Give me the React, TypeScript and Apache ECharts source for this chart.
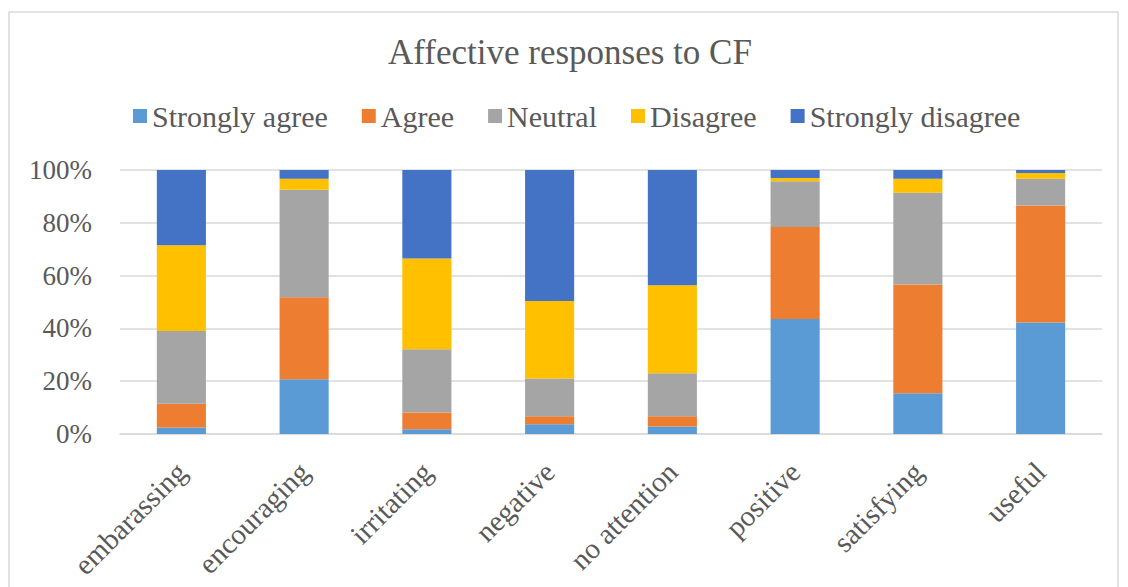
import React, { useEffect, useRef } from "react";
import * as echarts from "echarts";

const categories = ["embarassing", "encouraging", "irritating", "negative", "no attention", "positive", "satisfying", "useful"];
const seriesNames = ["Strongly agree", "Agree", "Neutral", "Disagree", "Strongly disagree"];
const stronglyAgree = [2.5, 20.7, 1.8, 3.7, 2.8, 43.6, 15.4, 42.2];
const agree = [9.0, 31.1, 6.3, 3.0, 3.9, 34.8, 41.2, 44.4];
const neutral = [27.5, 40.7, 24.0, 14.3, 16.3, 17.3, 34.8, 10.1];
const disagree = [32.5, 4.2, 34.4, 29.4, 33.3, 1.3, 5.3, 2.2];
const stronglyDisagree = [28.5, 3.3, 33.5, 49.6, 43.7, 3.0, 3.3, 1.1];
const colors = ["#5B9BD5", "#ED7D31", "#A5A5A5", "#FFC000", "#4472C4"];
const yTicks = [0, 20, 40, 60, 80, 100];

const FONT = "Liberation Serif";
const TEXT = "#595959";

export default function App() {
  const ref = useRef<HTMLDivElement>(null);
  useEffect(() => {
    if (!ref.current) return;
    const chart = echarts.init(ref.current, null, { renderer: "svg" });
    const values = [stronglyAgree, agree, neutral, disagree, stronglyDisagree];
    chart.setOption({
      animation: false,
      backgroundColor: "#ffffff",
      color: colors,
      textStyle: { fontFamily: FONT, color: TEXT },
      graphic: [
        {
          type: "rect",
          shape: { x: 9, y: 12, width: 1109, height: 620 },
          style: { fill: "none", stroke: "#d9d9d9", lineWidth: 1.5 },
          silent: true,
        },
      ],
      title: {
        text: "Affective responses to CF",
        left: 383,
        top: 30,
        textStyle: { fontFamily: FONT, color: TEXT, fontSize: 35, fontWeight: "normal" },
      },
      legend: {
        data: seriesNames,
        left: 128,
        top: 96,
        itemWidth: 14,
        itemHeight: 14,
        itemGap: 34,
        icon: "rect",
        textStyle: { fontFamily: FONT, color: TEXT, fontSize: 30 },
      },
      grid: { left: 120, right: 26, top: 170, bottom: 153, containLabel: false },
      xAxis: {
        type: "category",
        data: categories,
        axisTick: { show: false },
        axisLine: { show: true, lineStyle: { color: "#d9d9d9", width: 1.5 } },
        axisLabel: {
          rotate: 45,
          interval: 0,
          margin: 33,
          fontFamily: FONT,
          fontSize: 29,
          color: TEXT,
        },
      },
      yAxis: {
        type: "value",
        min: 0,
        max: 100,
        interval: 20,
        axisLine: { show: false },
        axisTick: { show: false },
        splitLine: { lineStyle: { color: "#d9d9d9", width: 1.5 } },
        axisLabel: {
          margin: 28,
          fontFamily: FONT,
          fontSize: 27,
          color: TEXT,
          formatter: (v: number) => (yTicks.includes(v) ? v + "%" : ""),
        },
      },
      series: seriesNames.map((name, i) => ({
        name,
        type: "bar",
        stack: "total",
        barWidth: "40%",
        data: values[i],
        itemStyle: { color: colors[i] },
      })),
    });
    return () => chart.dispose();
  }, []);
  return (
    <div
      ref={ref}
      style={{ position: "fixed", left: 0, top: 0, width: 1128, height: 587, background: "#fff" }}
    />
  );
}
